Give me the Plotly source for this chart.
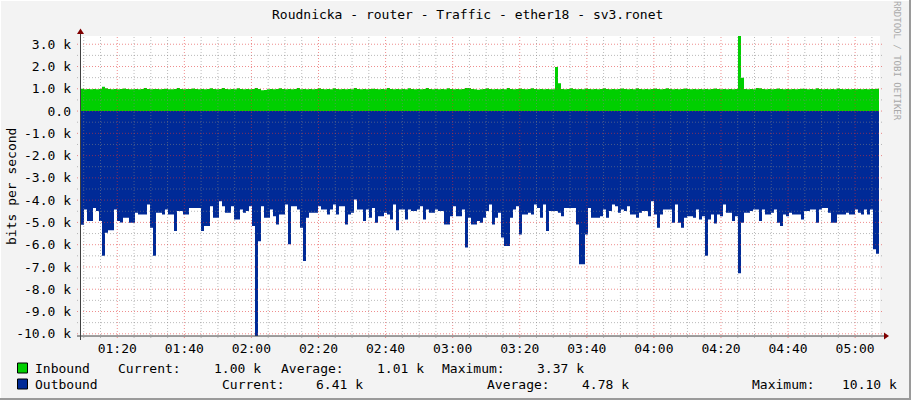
import plotly.graph_objects as go
import pandas as pd

# ---------------- data ----------------
DATE = "2024-05-14"
START = DATE + " 01:09:11"          # first sample (left edge of the graph)
SAMPLE_SECONDS = 53.67              # spacing of the samples
SPAN_SECONDS = 14294                # visible time span of the graph

inbound_k = [
    1.00, 0.98, 0.99, 0.98, 0.99, 0.98, 0.99, 1.09, 1.02, 0.99, 0.98, 0.99, 0.98, 0.99, 1.01, 0.99, 0.98, 0.98, 0.99, 0.98,
    0.99, 1.03, 0.99, 0.98, 0.99, 0.99, 0.98, 0.99, 1.00, 0.98, 0.98, 0.99, 1.03, 0.99, 0.98, 0.99, 0.99, 1.01, 0.99, 0.98,
    0.99, 0.98, 0.99, 1.02, 0.99, 0.98, 0.99, 1.04, 0.99, 0.98, 0.99, 0.98, 1.02, 0.99, 0.98, 0.99, 0.98, 0.99, 1.03, 0.99,
    0.93, 0.95, 0.98, 0.99, 0.98, 0.99, 1.02, 0.99, 0.98, 0.99, 0.98, 0.99, 1.03, 0.98, 0.99, 0.98, 0.99, 0.98, 0.99, 1.02,
    0.99, 0.98, 0.99, 0.98, 1.02, 0.99, 0.98, 0.99, 0.98, 0.99, 0.98, 1.04, 0.99, 0.98, 0.99, 0.98, 0.99, 1.00, 0.99, 0.98,
    0.99, 0.98, 1.03, 0.99, 0.98, 0.99, 0.98, 0.99, 0.98, 1.02, 0.99, 0.98, 0.99, 0.98, 0.99, 1.03, 0.99, 0.98, 0.99, 0.98,
    0.99, 0.98, 1.02, 0.99, 0.98, 0.99, 0.98, 0.99, 1.04, 1.03, 0.99, 0.98, 0.96, 0.98, 0.99, 1.02, 0.99, 0.98, 0.99, 0.98,
    0.99, 0.98, 1.03, 0.99, 0.98, 0.99, 1.01, 0.99, 0.98, 0.99, 1.02, 0.99, 0.98, 0.99, 0.98, 0.99, 0.98, 0.98, 1.98, 1.25,
    0.99, 0.98, 0.99, 1.02, 0.99, 0.98, 0.99, 0.98, 1.01, 0.99, 0.98, 0.99, 0.98, 0.99, 1.02, 0.99, 0.98, 0.99, 0.98, 0.99,
    1.01, 0.99, 0.98, 0.99, 0.98, 1.02, 0.99, 0.98, 0.99, 0.98, 0.99, 1.01, 0.99, 0.98, 0.99, 1.02, 0.99, 0.98, 0.99, 0.98,
    0.99, 1.01, 0.99, 0.98, 0.99, 0.98, 0.99, 0.98, 0.99, 0.98, 0.99, 1.01, 0.99, 0.98, 0.99, 0.98, 0.99, 0.98, 0.99, 3.37,
    1.50, 0.99, 0.98, 0.99, 0.98, 1.04, 1.02, 0.99, 0.98, 0.99, 0.98, 0.99, 1.01, 0.99, 0.98, 0.99, 0.98, 0.99, 0.98, 0.99,
    1.00, 0.99, 0.98, 0.99, 0.98, 1.02, 0.99, 0.98, 0.99, 0.98, 0.99, 0.98, 1.01, 0.99, 0.98, 0.99, 0.98, 0.99, 0.98, 0.99,
    0.98, 0.99, 0.98, 0.99, 0.99, 1.00,
]

outbound_k = [
    5.10, 4.42, 4.94, 4.94, 4.35, 4.49, 4.94, 6.50, 5.46, 5.35, 5.35, 4.42, 4.94, 5.00, 4.79, 4.79, 5.01, 5.01, 4.57, 4.64,
    4.64, 4.64, 4.20, 5.24, 6.50, 4.57, 4.57, 4.64, 4.42, 4.64, 4.64, 5.39, 4.49, 4.49, 4.64, 4.64, 4.35, 4.35, 4.35, 4.35,
    5.39, 5.16, 5.16, 4.27, 4.79, 4.79, 4.05, 4.27, 4.57, 4.57, 4.27, 4.87, 4.87, 4.42, 4.57, 4.49, 4.27, 5.16, 10.10, 5.85,
    4.27, 4.79, 4.79, 4.42, 4.72, 5.09, 4.64, 4.64, 4.20, 5.98, 4.27, 4.27, 4.42, 5.24, 6.73, 4.79, 4.57, 4.57, 4.57, 4.27,
    4.42, 4.42, 4.64, 4.42, 4.20, 4.64, 4.27, 4.27, 5.09, 4.64, 4.57, 3.97, 4.42, 4.42, 4.94, 4.42, 4.79, 4.35, 5.01, 4.72,
    4.72, 4.57, 4.64, 4.87, 4.20, 5.35, 4.42, 4.42, 4.87, 4.42, 4.49, 4.49, 4.42, 4.27, 4.87, 4.42, 4.57, 4.57, 4.42, 4.49,
    4.49, 5.09, 5.09, 4.72, 4.27, 4.72, 4.72, 4.42, 6.13, 4.79, 5.09, 5.09, 4.94, 5.01, 4.79, 4.49, 4.20, 5.09, 4.79, 4.57,
    5.68, 6.06, 6.06, 4.79, 4.42, 4.27, 5.54, 4.64, 4.64, 4.57, 4.64, 4.20, 4.35, 4.79, 4.20, 5.39, 4.49, 4.49, 4.49, 4.57,
    4.72, 4.35, 4.35, 4.35, 4.35, 5.09, 6.88, 6.88, 5.54, 4.35, 4.79, 4.79, 4.79, 4.72, 4.42, 4.79, 4.49, 4.20, 4.27, 4.57,
    4.42, 4.49, 4.27, 4.64, 4.64, 4.79, 4.57, 4.49, 4.49, 4.72, 4.05, 4.64, 5.24, 4.64, 4.42, 4.42, 4.42, 5.01, 4.20, 5.01,
    5.24, 4.79, 4.72, 4.72, 4.79, 4.42, 4.87, 4.72, 6.50, 4.87, 4.64, 5.05, 4.64, 4.72, 4.20, 4.57, 4.57, 4.94, 4.72, 7.28,
    5.01, 4.57, 4.57, 4.49, 4.42, 4.42, 4.94, 4.42, 4.64, 4.64, 4.57, 4.42, 5.01, 5.16, 4.64, 4.72, 4.57, 4.64, 4.64, 4.64,
    4.87, 4.49, 4.49, 4.42, 4.42, 5.01, 4.42, 4.35, 4.35, 4.57, 5.01, 5.01, 4.64, 4.64, 4.64, 4.57, 4.64, 4.64, 4.42, 4.57,
    4.64, 4.42, 4.64, 4.42, 6.21, 6.41,
]

y_tick_values = [3, 2, 1, 0, -1, -2, -3, -4, -5, -6, -7, -8, -9, -10]
y_tick_labels = ["3.0 k", "2.0 k", "1.0 k", "0.0", "-1.0 k", "-2.0 k", "-3.0 k", "-4.0 k",
                 "-5.0 k", "-6.0 k", "-7.0 k", "-8.0 k", "-9.0 k", "-10.0 k"]
x_tick_labels = ["01:20", "01:40", "02:00", "02:20", "02:40", "03:00",
                 "03:20", "03:40", "04:00", "04:20", "04:40", "05:00"]

title_text = "Roudnicka - router - Traffic - ether18 - sv3.ronet"
series_names = ["Inbound", "Outbound"]
stat_current = ["1.00 k", "6.41 k"]
stat_average = ["1.01 k", "4.78 k"]
stat_maximum = ["3.37 k", "10.10 k"]
Y_MIN, Y_MAX = -10.10, 3.37

# ---------------- colours / fonts ----------------
C_IN = "#00CF00"
C_OUT = "#002A97"
FONT = "DejaVu Sans Mono"
BG = "#F3F3F3"

# ---------------- geometry helpers (pixel -> paper) ----------------
W, H = 911, 400
ML, MR, MT, MB = 81, 31, 36, 64
PW, PH = W - ML - MR, H - MT - MB


def PX(px):
    return (px - ML) / PW


def PY(py):
    return (H - MB - py) / PH


# ---------------- x values ----------------
step = pd.Timedelta(seconds=SAMPLE_SECONDS)
times = pd.date_range(START, periods=len(inbound_k), freq=step)
x_vals = list(times) + [times[-1] + step]
in_vals = inbound_k + [inbound_k[-1]]
out_vals = [-v for v in outbound_k] + [-outbound_k[-1]]
t0 = pd.Timestamp(START)
t1 = t0 + pd.Timedelta(seconds=SPAN_SECONDS)

fig = go.Figure()
fig.add_trace(go.Scatter(x=x_vals, y=in_vals, mode="lines", line=dict(width=0, shape="hv"),
                         fill="tozeroy", fillcolor=C_IN, hoverinfo="skip", showlegend=False))
fig.add_trace(go.Scatter(x=x_vals, y=out_vals, mode="lines", line=dict(width=0, shape="hv"),
                         fill="tozeroy", fillcolor=C_OUT, hoverinfo="skip", showlegend=False))

shapes = []
GRID = "rgba(130,130,130,0.55)"
MGRID = "rgba(225,50,50,0.55)"
DASH = "1px,2px"

# vertical grid lines (5 min minor, 20 min major)
for t in pd.date_range(DATE + " 01:10", DATE + " 05:05", freq="5min"):
    major = t.minute % 20 == 0
    shapes.append(dict(type="line", xref="x", yref="paper", x0=t, x1=t, y0=PY(338), y1=1,
                       line=dict(color=MGRID if major else GRID, width=1, dash=DASH), layer="above"))
# horizontal grid lines (0.5 k minor, 1 k major)
for k in range(-20, 7):
    v = k / 2
    major = k % 2 == 0
    shapes.append(dict(type="line", xref="paper", yref="y", x0=PX(77), x1=PX(883), y0=v, y1=v,
                       line=dict(color=MGRID if major else GRID, width=1, dash=DASH), layer="above"))

# axes with arrows
shapes.append(dict(type="line", xref="paper", yref="paper", x0=PX(77), x1=PX(884), y0=PY(336), y1=PY(336),
                   line=dict(color="#404040", width=1), layer="above"))
shapes.append(dict(type="line", xref="paper", yref="paper", x0=PX(80.5), x1=PX(80.5), y0=PY(340), y1=PY(33),
                   line=dict(color="#404040", width=1), layer="above"))
shapes.append(dict(type="path", xref="paper", yref="paper",
                   path=f"M {PX(884)} {PY(332.5)} L {PX(889)} {PY(336)} L {PX(884)} {PY(339.5)} Z",
                   fillcolor="#800000", line=dict(width=0), layer="above"))
shapes.append(dict(type="path", xref="paper", yref="paper",
                   path=f"M {PX(77)} {PY(34)} L {PX(80.5)} {PY(28.5)} L {PX(84)} {PY(34)} Z",
                   fillcolor="#800000", line=dict(width=0), layer="above"))

# frame of the image
shapes.append(dict(type="rect", xref="paper", yref="paper", x0=PX(909), x1=PX(911), y0=PY(400), y1=PY(0),
                   fillcolor="#9A9A9A", line=dict(width=0), layer="above"))
shapes.append(dict(type="rect", xref="paper", yref="paper", x0=PX(0), x1=PX(911), y0=PY(400), y1=PY(398),
                   fillcolor="#9A9A9A", line=dict(width=0), layer="above"))
shapes.append(dict(type="rect", xref="paper", yref="paper", x0=PX(0), x1=PX(1), y0=PY(398), y1=PY(0),
                   fillcolor="#FFFFFF", line=dict(width=0), layer="above"))
shapes.append(dict(type="rect", xref="paper", yref="paper", x0=PX(0), x1=PX(909), y0=PY(1), y1=PY(0),
                   fillcolor="#FFFFFF", line=dict(width=0), layer="above"))

# legend boxes
for row_y, col in ((368, C_IN), (384, C_OUT)):
    shapes.append(dict(type="rect", xref="paper", yref="paper", x0=PX(17.5), x1=PX(27.5),
                       y0=PY(row_y + 5), y1=PY(row_y - 5), fillcolor=col,
                       line=dict(color="#000000", width=1), layer="above"))

annotations = []


def txt(s, px, py, size=13, color="#000000", anchor="left", angle=0):
    annotations.append(dict(text=s, xref="paper", yref="paper", x=PX(px), y=PY(py), xanchor=anchor,
                            yanchor="middle", showarrow=False, textangle=angle,
                            font=dict(family=FONT, size=size, color=color)))


txt(title_text, 467, 14, size=13, anchor="center")
txt("bits per second", 11, 187, size=13, anchor="center", angle=-90)
txt("RRDTOOL / TOBI OETIKER", 897, 61, size=9, color="#A8A8A8", anchor="center", angle=90)

# legend row 1 (Inbound)
row1_x = [33, 116, 212, 279, 375, 440, 535]
row1 = [series_names[0], "Current:", stat_current[0], "Average:", stat_average[0], "Maximum:", stat_maximum[0]]
for s, px in zip(row1, row1_x):
    txt(s, px, 368)
# legend row 2 (Outbound)
row2_x = [33, 220, 314, 485, 580, 750, 840]
row2 = [series_names[1], "Current:", stat_current[1], "Average:", stat_average[1], "Maximum:", stat_maximum[1]]
for s, px in zip(row2, row2_x):
    txt(s, px, 384)

fig.update_layout(
    width=W, height=H, autosize=False,
    margin=dict(l=ML, r=MR, t=MT, b=MB, pad=0),
    paper_bgcolor=BG, plot_bgcolor="#FFFFFF",
    showlegend=False,
    shapes=shapes, annotations=annotations,
    font=dict(family=FONT, size=13, color="#000000"),
    xaxis=dict(type="date", range=[t0, t1], showgrid=False, zeroline=False, showline=False,
               automargin=False,
               tickvals=[pd.Timestamp(DATE + " " + s) for s in x_tick_labels], ticktext=x_tick_labels,
               ticks="", ticklabelstandoff=3, tickfont=dict(family=FONT, size=13, color="#000000"),
               fixedrange=True),
    yaxis=dict(range=[Y_MIN, Y_MAX], showgrid=False, zeroline=False, showline=False,
               automargin=False,
               tickvals=y_tick_values, ticktext=y_tick_labels, ticks="", ticklabelstandoff=9,
               tickfont=dict(family=FONT, size=13, color="#000000"), fixedrange=True),
)

fig.write_html("out.html", config={"displayModeBar": False},
               post_script="document.body.style.margin='0px';document.body.style.padding='0px';")
